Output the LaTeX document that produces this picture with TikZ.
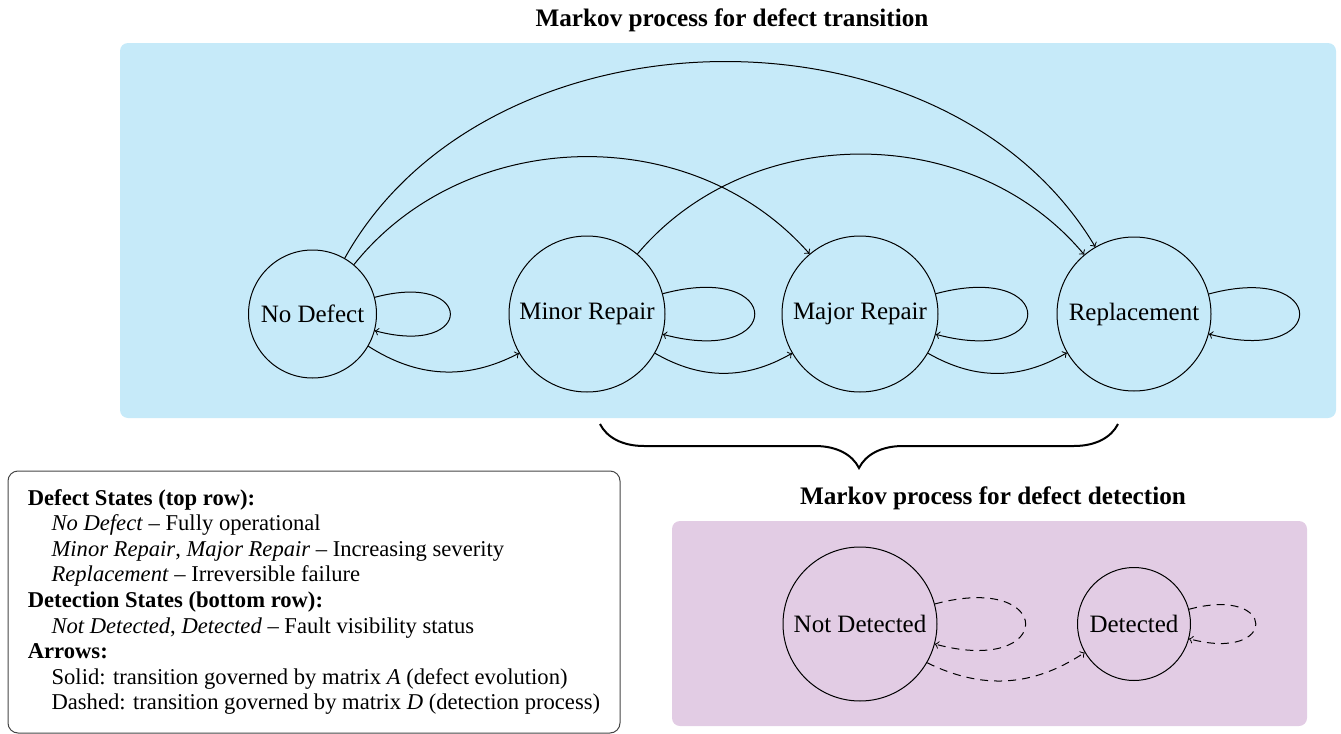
\documentclass[tikz,border=0pt]{standalone}
\usepackage{fontspec}
\setmainfont{Liberation Serif}
\usetikzlibrary{decorations.pathreplacing}
\definecolor{topbg}{RGB}{198,234,249}
\definecolor{botbg}{RGB}{226,204,228}
\definecolor{legborder}{RGB}{70,70,70}
\begin{document}
\begin{tikzpicture}[x=0.5pt,y=-0.5pt,
  state/.style={circle,draw,line width=0.5pt,inner sep=0pt,font=\fontsize{12.5}{15}\selectfont},
  trans/.style={->,line width=0.5pt},
  detect/.style={->,dash pattern=on 4pt off 3pt,line width=0.5pt},
  ttl/.style={font=\fontsize{12.6}{15}\selectfont\bfseries},
  legend/.style={draw=legborder,line width=0.5pt,rounded corners=5pt,fill=white,
    minimum width=306pt,minimum height=131pt,inner sep=0pt,align=left,
    font=\fontsize{11.3}{12.8}\selectfont},
  bracestyle/.style={line width=1pt,decorate,decoration={brace,mirror,amplitude=22pt}}
]
\useasboundingbox (0,0) rectangle (1341,734);
% panels
\fill[topbg,rounded corners=4pt] (120,43) rectangle (1336,418);
\fill[botbg,rounded corners=4pt] (672,521) rectangle (1307,726);
% titles
\node[ttl] (t1) at (732,20) {Markov process for defect transition};
\node[ttl] (t2) at (993,498) {Markov process for defect detection};
% states
\node[state,minimum size=64pt] (nd) at (312.5,314) {No Defect};
\node[state,minimum size=78pt] (mi) at (587,314) {Minor Repair};
\node[state,minimum size=78pt] (ma) at (860,314) {Major Repair};
\node[state,minimum size=77pt] (re) at (1134,314) {Replacement};
\node[state,minimum size=77pt] (nt) at (860,624) {Not Detected};
\node[state,minimum size=56.5pt] (de) at (1134,624) {Detected};
% defect transitions
\draw[trans] (nd) to[loop right] (nd);
\draw[trans] (mi) to[loop right] (mi);
\draw[trans] (ma) to[loop right] (ma);
\draw[trans] (re) to[loop right] (re);
\draw[trans] (nd) to[bend right] (mi);
\draw[trans] (mi) to[bend right] (ma);
\draw[trans] (ma) to[bend right] (re);
\draw[trans] (nd) to[bend left=60] (re);
\draw[trans] (nd) to[bend left=50] (ma);
\draw[trans] (mi) to[bend left=50] (re);
% detection transitions
\draw[detect] (nt) to[loop right] (nt);
\draw[detect] (de) to[loop right] (de);
\draw[detect] (nt) to[bend right] (de);
% brace
\coordinate (bl) at (600,424);
\coordinate (br) at (1118,424);
\draw[bracestyle] (bl) -- (br);
% legend
\node[legend] (leg) at (314,602) {%
\textbf{Defect States (top row):}\\
\hspace*{1.05em}\textit{No Defect} -- Fully operational\\
\hspace*{1.05em}\textit{Minor Repair}, \textit{Major Repair} -- Increasing severity\\
\hspace*{1.05em}\textit{Replacement} -- Irreversible failure\\
\textbf{Detection States (bottom row):}\\
\hspace*{1.05em}\textit{Not Detected}, \textit{Detected} -- Fault visibility status\\
\textbf{Arrows:}\\
\hspace*{1.05em}Solid: transition governed by matrix \textit{A} (defect evolution)\\
\hspace*{1.05em}Dashed: transition governed by matrix \textit{D} (detection process)};
\end{tikzpicture}
\end{document}
